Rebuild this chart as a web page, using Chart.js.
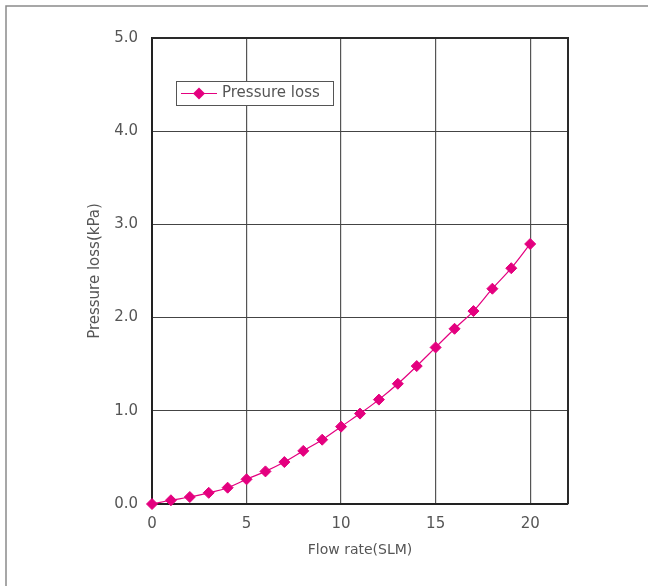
<!DOCTYPE html>
<html>
<head>
<meta charset="utf-8">
<script src="https://cdn.jsdelivr.net/npm/chart.js@4/dist/chart.umd.min.js"></script>
<style>
  html, body { margin: 0; padding: 0; background: #fff; }
  #wrap { position: relative; width: 648px; height: 586px; }
</style>
</head>
<body>
<div id="wrap"><canvas id="c" width="648" height="586"></canvas></div>
<script>
// Flow rate (SLM) and measured pressure loss (kPa)
const flowRate = [0, 1, 2, 3, 4, 5, 6, 7, 8, 9, 10, 11, 12, 13, 14, 15, 16, 17, 18, 19, 20];
const pressureLoss = [0, 0.04, 0.075, 0.12, 0.175, 0.265, 0.35, 0.45, 0.57, 0.69, 0.83,
                      0.97, 1.12, 1.29, 1.48, 1.68, 1.88, 2.07, 2.31, 2.53, 2.79];
const seriesName = 'Pressure loss';
const xTitle = 'Flow rate(SLM)';
const yTitle = 'Pressure loss(kPa)';

const MAGENTA = '#E4007F';
const FONT = '"DejaVu Sans", sans-serif';
const TEXT = '#555555';

// Outer panel edge, plot frame and the boxed legend
const framePlugin = {
  id: 'frame',
  beforeDraw(chart) {
    const ctx = chart.ctx;
    ctx.save();
    ctx.fillStyle = '#fff';
    ctx.fillRect(0, 0, chart.width, chart.height);
    ctx.strokeStyle = '#8a8a8a';
    ctx.lineWidth = 1.5;
    ctx.beginPath();
    ctx.moveTo(6, chart.height);
    ctx.lineTo(6, 6);
    ctx.lineTo(chart.width, 6);
    ctx.stroke();
    ctx.restore();
  },
  afterDatasetsDraw(chart) {
    const ctx = chart.ctx;
    const a = chart.chartArea;
    ctx.save();
    ctx.strokeStyle = '#2a2a2a';
    ctx.lineWidth = 2;
    ctx.beginPath();
    ctx.moveTo(a.left, a.top);
    ctx.lineTo(a.right, a.top);
    ctx.lineTo(a.right, a.bottom);
    ctx.stroke();

    // legend
    const ds = chart.data.datasets[0];
    const bx = 176, by = 81, bw = 157, bh = 24;
    ctx.fillStyle = '#fff';
    ctx.fillRect(bx, by, bw, bh);
    ctx.strokeStyle = '#555';
    ctx.lineWidth = 1;
    ctx.strokeRect(bx + 0.5, by + 0.5, bw, bh);
    const cy = by + bh / 2 + 0.5;
    ctx.strokeStyle = ds.borderColor;
    ctx.lineWidth = 1;
    ctx.beginPath();
    ctx.moveTo(181, cy);
    ctx.lineTo(217, cy);
    ctx.stroke();
    ctx.fillStyle = ds.pointBackgroundColor;
    ctx.beginPath();
    ctx.moveTo(199 - 6, cy);
    ctx.lineTo(199, cy - 6);
    ctx.lineTo(199 + 6, cy);
    ctx.lineTo(199, cy + 6);
    ctx.closePath();
    ctx.fill();
    ctx.fillStyle = TEXT;
    ctx.font = '15px ' + FONT;
    ctx.textBaseline = 'middle';
    ctx.fillText(ds.label, 222, cy);
    ctx.restore();
  }
};

new Chart(document.getElementById('c'), {
  type: 'line',
  data: {
    datasets: [{
      label: seriesName,
      data: flowRate.map((x, i) => ({ x: x, y: pressureLoss[i] })),
      borderColor: MAGENTA,
      backgroundColor: MAGENTA,
      pointBackgroundColor: MAGENTA,
      pointBorderColor: MAGENTA,
      borderWidth: 1.2,
      pointStyle: 'rectRot',
      pointRadius: 5.5,
      pointBorderWidth: 1,
      tension: 0.4,
      clip: false
    }]
  },
  options: {
    responsive: false,
    animation: false,
    events: [],
    layout: { padding: { left: 0, top: 38, right: 80, bottom: 0 } },
    plugins: {
      legend: { display: false },
      tooltip: { enabled: false }
    },
    scales: {
      x: {
        type: 'linear',
        min: 0,
        max: 22,
        afterFit(scale) { scale.height = 82; },
        ticks: {
          stepSize: 5,
          includeBounds: false,
          padding: 11,
          color: TEXT,
          font: { family: FONT, size: 15 },
          maxRotation: 0
        },
        grid: { color: '#555', lineWidth: 1.2, drawTicks: false },
        border: { color: '#222', width: 2 },
        title: {
          display: true,
          text: xTitle,
          color: TEXT,
          font: { family: FONT, size: 14 },
          padding: { top: 0, bottom: 27 }
        }
      },
      y: {
        min: 0,
        max: 5,
        afterFit(scale) { scale.width = 152; },
        ticks: {
          stepSize: 1,
          padding: 14,
          color: TEXT,
          font: { family: FONT, size: 15 },
          callback: v => Number(v).toFixed(1)
        },
        grid: { color: '#444', lineWidth: 1, drawTicks: false },
        border: { color: '#222', width: 2 },
        title: {
          display: true,
          text: yTitle,
          color: TEXT,
          font: { family: FONT, size: 15 },
          padding: { top: 86, bottom: 0 }
        }
      }
    }
  },
  plugins: [framePlugin]
});
</script>
</body>
</html>
